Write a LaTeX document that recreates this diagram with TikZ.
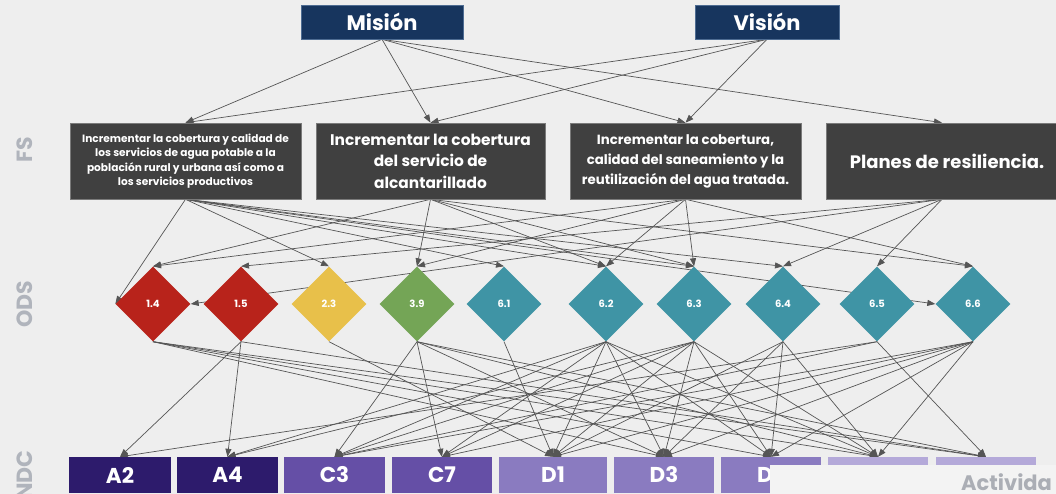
\documentclass[tikz,border=0pt]{standalone}
\usepackage{fontspec}
\setmainfont{Poppins}
\usetikzlibrary{shapes.geometric,arrows.meta}
\pgfdeclarelayer{bgl}
\pgfdeclarelayer{edges}
\pgfsetlayers{bgl,edges,main}
\definecolor{bgc}{HTML}{EEEEEE}
\definecolor{navy}{HTML}{17355E}
\definecolor{navyedge}{HTML}{4E6C92}
\definecolor{fsfill}{HTML}{404040}
\definecolor{fsedge}{HTML}{7A7A7A}
\definecolor{linkc}{HTML}{555555}
\definecolor{ored}{HTML}{B8231B}
\definecolor{oyel}{HTML}{E8C04A}
\definecolor{ogrn}{HTML}{74A556}
\definecolor{oteal}{HTML}{3F94A5}
\definecolor{pdark}{HTML}{2D1B6C}
\definecolor{pmid}{HTML}{654FA6}
\definecolor{plight}{HTML}{8A7BC0}
\definecolor{ppale}{HTML}{B4A9D9}
\definecolor{sidec}{HTML}{B0B4BC}
\definecolor{coverc}{HTML}{F3F3F3}
\definecolor{actc}{HTML}{ABAEB5}
\begin{document}
\begin{tikzpicture}[x=1pt,y=-1pt,
  topbox/.style={draw=navyedge, line width=0.6pt, fill=navy, text=white, font=\bfseries\fontsize{21}{23}\selectfont, minimum height=34pt, inner sep=0pt},
  fsbox/.style={draw=fsedge, line width=0.6pt, fill=fsfill, text=white, align=center, minimum height=76pt, inner sep=0pt},
  odsd/.style={diamond, aspect=1, minimum width=75pt, minimum height=75pt, inner sep=0pt, text=white, font=\bfseries\fontsize{10}{11}\selectfont},
  ndcbox/.style={minimum height=36pt, inner sep=0pt, text=white, font=\bfseries\fontsize{21.5}{23}\selectfont},
  sidelbl/.style={rotate=90, text=sidec, font=\bfseries\fontsize{22}{24}\selectfont},
  link/.style={draw=linkc, line width=0.7pt, -{Triangle[length=8pt,width=6pt]}}
]
\useasboundingbox (0,0) rectangle (1056,494);
\begin{pgfonlayer}{bgl}
\fill[bgc] (0,0) rectangle (1056,494);
\end{pgfonlayer}

% side labels
\node[sidelbl] (lfs) at (25,150) {FS};
\node[sidelbl] (lods) at (25,304) {ODS};
\node[sidelbl] (lndc) at (25,475) {NDC};

% top
\node[topbox, minimum width=162pt] (mis) at (382,22) {Misión};
\node[topbox, minimum width=144pt] (vis) at (767,22) {Visión};

% FS
\node[fsbox, minimum width=231pt, font=\bfseries\fontsize{10.6}{14.5}\selectfont] (fsa) at (185.5,161)
  {Incrementar la cobertura y calidad de\\los servicios de agua potable a la\\población rural y urbana así como a\\los servicios productivos};
\node[fsbox, minimum width=229pt, font=\bfseries\fontsize{15.4}{21.5}\selectfont] (fsb) at (430.5,161)
  {Incrementar la cobertura\\del servicio de\\alcantarillado};
\node[fsbox, minimum width=231pt, font=\bfseries\fontsize{13.3}{20}\selectfont] (fsc) at (685.5,161)
  {Incrementar la cobertura,\\calidad del saneamiento y la\\reutilización del agua tratada.};
\node[fsbox, minimum width=232pt, font=\bfseries\fontsize{18}{20}\selectfont] (fsd) at (942,161)
  {\hspace*{10pt}Planes de resiliencia.};

% ODS
\node[odsd, fill=ored]  (o14) at (153,304) {1.4};
\node[odsd, fill=ored]  (o15) at (241,304) {1.5};
\node[odsd, fill=oyel]  (o23) at (329,304) {2.3};
\node[odsd, fill=ogrn]  (o39) at (417,304) {3.9};
\node[odsd, fill=oteal] (o61) at (504,304) {6.1};
\node[odsd, fill=oteal] (o62) at (606,304) {6.2};
\node[odsd, fill=oteal] (o63) at (694,304) {6.3};
\node[odsd, fill=oteal] (o64) at (783,304) {6.4};
\node[odsd, fill=oteal] (o65) at (877,304) {6.5};
\node[odsd, fill=oteal] (o66) at (973,304) {6.6};

% NDC
\node[ndcbox, fill=pdark,  minimum width=102pt] (na2) at (120,475) {A2};
\node[ndcbox, fill=pdark,  minimum width=101pt] (na4) at (227.5,475) {A4};
\node[ndcbox, fill=pmid,   minimum width=101pt] (nc3) at (334.5,475) {C3};
\node[ndcbox, fill=pmid,   minimum width=100pt] (nc7) at (442,475) {C7};
\node[ndcbox, fill=plight, minimum width=108pt] (nd1) at (553,475) {D1};
\node[ndcbox, fill=plight, minimum width=100pt] (nd3) at (664,475) {D3};
\node[ndcbox, fill=plight, minimum width=100pt] (ndq) at (771,475) {};
\node[ndcbox, fill=ppale,  minimum width=100pt] (nx8) at (878,475) {};
\node[ndcbox, fill=ppale,  minimum width=100pt] (nx9) at (986,475) {};
\node[anchor=west, inner sep=0pt, text=white, font=\bfseries\fontsize{21.5}{23}\selectfont] (ndqt) at (757,475) {D};

% cover and caption
\fill[coverc] (770,465) rectangle (1056,494);
\node[anchor=base west, inner sep=0pt, text=actc, font=\bfseries\fontsize{21}{23}\selectfont] (act) at (961,490) {Activida};

\begin{pgfonlayer}{edges}
\foreach \t in {fsa,fsb,fsc,fsd} \draw[link] (mis.south) -- (\t.north);
\foreach \t in {fsa,fsb,fsc} \draw[link] (vis.south) -- (\t.north);
\foreach \t in {o23,o61,o62,o63,o64} \draw[link] (fsa.south) -- (\t.north);
\draw[link] (fsa.south) -- (o14.west);
\draw[link] (fsa.south) -- (o66.west);
\foreach \t in {o14,o39,o62,o63,o66} \draw[link] (fsb.south) -- (\t.north);
\foreach \t in {o14,o39,o62,o63,o66} \draw[link] (fsc.south) -- (\t.north);
\foreach \t in {o15,o64,o65} \draw[link] (fsd.south) -- (\t.north);
\draw[link] (fsd.south) -- (o14.east);
\foreach \s/\t in {o14/nd3,o14/ndq,o14/nx8,o14/nx9,
  o15/na2,o15/na4,o15/nx9,
  o23/nd1,
  o39/nc3,o39/nc7,o39/nd3,o39/nx8,o39/nx9,
  o61/nd1,
  o62/na4,o62/nc3,o62/nc7,o62/nd1,o62/nd3,o62/ndq,o62/nx8,
  o63/na4,o63/nc3,o63/nc7,o63/nd1,o63/nd3,o63/ndq,o63/nx8,
  o64/nd1,o64/nd3,o64/ndq,o64/nx8,
  o65/na2,o65/nc3,o65/nx9,
  o66/nc3,o66/nc7,o66/nd1,o66/nd3,o66/ndq,o66/nx8}
  \draw[link] (\s.south) -- (\t.north);
\end{pgfonlayer}
\end{tikzpicture}
\end{document}
